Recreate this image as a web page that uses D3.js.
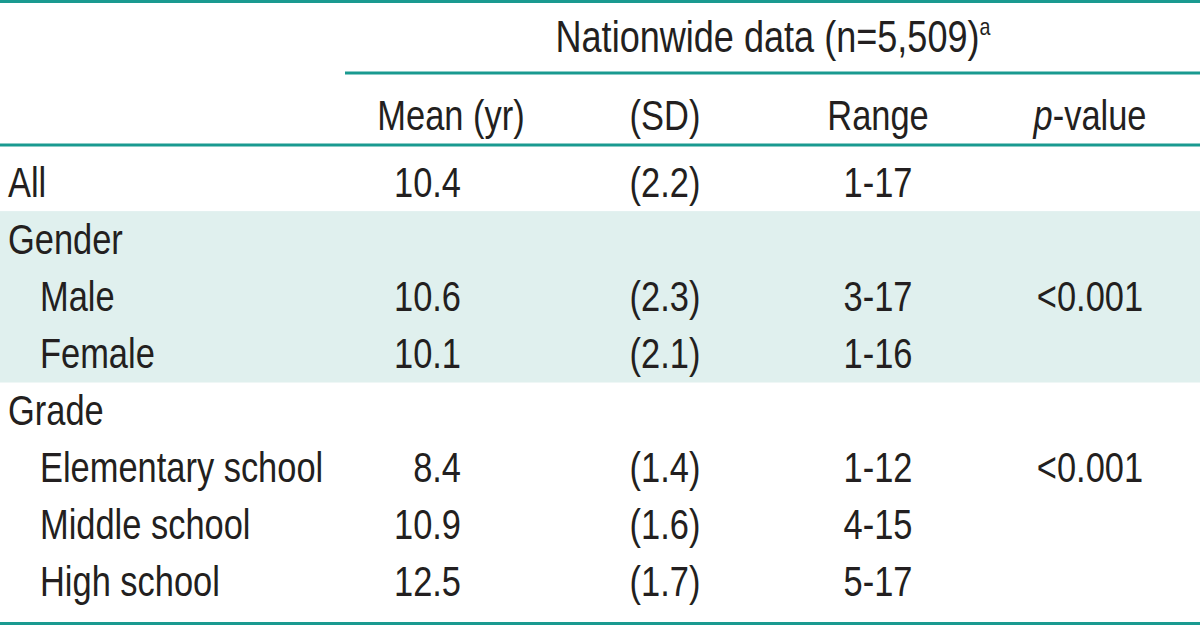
<!DOCTYPE html>
<html><head><meta charset="utf-8">
<script src="https://cdn.jsdelivr.net/npm/d3@7"></script>
<style>html,body{margin:0;padding:0;background:#fff;}svg{display:block;}</style>
</head><body>
<svg id="t" width="1200" height="625"></svg>
<script>
const title = "Nationwide data (n=5,509)";
const titleSup = "a";
const headers = ["Mean (yr)", "(SD)", "Range", "p-value"];
const rowLabels = ["All", "Gender", "Male", "Female", "Grade", "Elementary school", "Middle school", "High school"];
const rowIndent = [0, 0, 1, 1, 0, 1, 1, 1];
const means = ["10.4", "", "10.6", "10.1", "", "8.4", "10.9", "12.5"];
const sds = ["(2.2)", "", "(2.3)", "(2.1)", "", "(1.4)", "(1.6)", "(1.7)"];
const ranges = ["1-17", "", "3-17", "1-16", "", "1-12", "4-15", "5-17"];
const pvalues = ["", "", "<0.001", "", "", "<0.001", "", ""];
const shadedGroup = ["Gender", "Male", "Female"];

const W = 1200, H = 625;
const teal = "#1a9a90", shade = "#e0f0ee", ink = "#231f20";
const font = "'Liberation Sans', Arial, sans-serif";
const fs = 42, sx = 0.82;
const svg = d3.select("#t");

const y = d3.scaleBand().domain(d3.range(rowLabels.length)).range([154, 611]).paddingInner(0);
const cols = [
  {vals: means, x: 461, anchor: "end", hx: 451},
  {vals: sds, x: 665, anchor: "middle", hx: 665},
  {vals: ranges, x: 878, anchor: "middle", hx: 878},
  {vals: pvalues, x: 1090, anchor: "middle", hx: 1090}
];

// shading
const si = shadedGroup.map(l => rowLabels.indexOf(l));
const sTop = y(d3.min(si)), sBot = y(d3.max(si)) + y.bandwidth();
svg.append("rect").attr("x", 0).attr("y", sTop).attr("width", W).attr("height", sBot - sTop).attr("fill", shade);

// rules
const rule = (x1, x2, yy, w) => svg.append("line").attr("x1", x1).attr("x2", x2).attr("y1", yy).attr("y2", yy)
  .attr("stroke", teal).attr("stroke-width", w);
rule(0, W, 1.5, 3);
rule(345, W, 73, 3);
rule(0, W, 145, 3);
rule(0, W, 623.5, 3);

const txt = (s, x, yy, anchor, size) => {
  const el = svg.append("text").attr("transform", `translate(${x},${yy}) scale(${sx},1)`)
    .attr("text-anchor", anchor)
    .attr("font-family", font).attr("font-size", size || fs).attr("fill", ink);
  if (s !== null) el.text(s);
  return el;
};

// title
const t = txt(null, 773, 52, "middle", 44);
t.append("tspan").text(title);
t.append("tspan").attr("font-size", 24).attr("dy", -17).text(titleSup);

// headers
headers.forEach((h, i) => {
  const el = txt(null, cols[i].hx, 130, "middle");
  if (h.startsWith("p-")) {
    el.append("tspan").attr("font-style", "italic").text("p");
    el.append("tspan").text(h.slice(1));
  } else el.text(h);
});

// rows
rowLabels.forEach((lab, i) => {
  const by = y(i) + y.bandwidth() / 2 + 14;
  txt(lab, rowIndent[i] ? 40 : 8, by, "start");
  cols.forEach(c => { if (c.vals[i]) txt(c.vals[i], c.x, by, c.anchor); });
});
</script>
</body></html>
